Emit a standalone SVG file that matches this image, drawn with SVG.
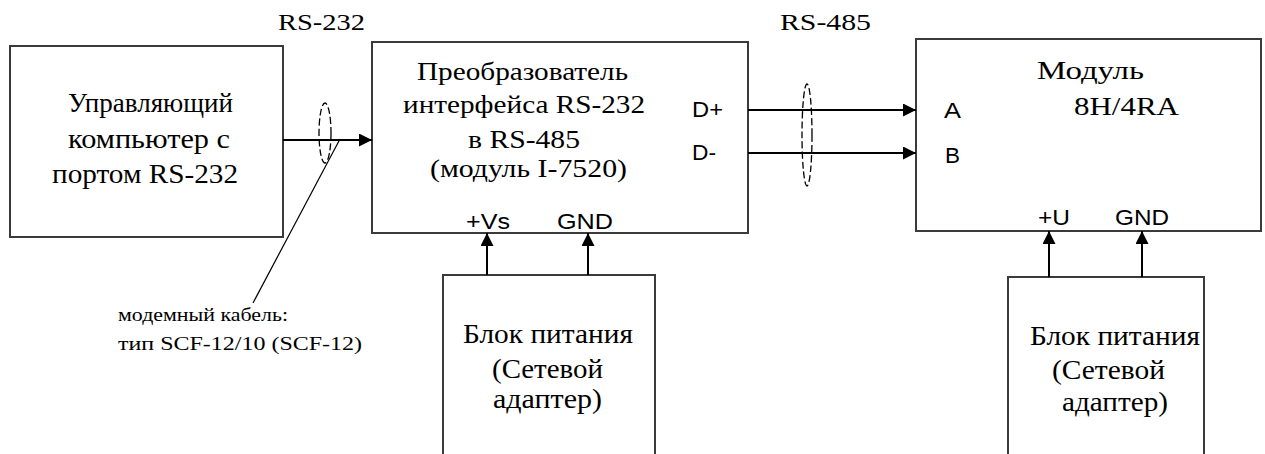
<svg xmlns="http://www.w3.org/2000/svg" width="1265" height="454" viewBox="0 0 1265 454">
<style>
.box{fill:#fff;stroke:#3a3a3a;stroke-width:2}
.serif{font-family:"Liberation Serif","Times New Roman",serif;fill:#000}
.sans{font-family:"Liberation Sans",Arial,sans-serif;fill:#000}
.wire{stroke:#000;stroke-width:2;fill:none}
.ell{stroke:#000;stroke-width:1.3;fill:none;stroke-dasharray:7 3}
</style>
<defs>
<marker id="ah" markerUnits="userSpaceOnUse" markerWidth="14" markerHeight="14" refX="13" refY="6.5" orient="auto">
<path d="M0,0 L13,6.5 L0,13 z" fill="#000"/>
</marker>
</defs>
<rect width="1265" height="454" fill="#fff"/>
<g id="computer">
<rect class="box" x="10" y="46" width="273" height="191"/>
<text class="serif" font-size="28" x="68" y="112" textLength="165" lengthAdjust="spacingAndGlyphs">Управляющий</text>
<text class="serif" font-size="28" x="68" y="148" textLength="162" lengthAdjust="spacingAndGlyphs">компьютер с</text>
<text class="serif" font-size="28" x="52" y="183" textLength="186" lengthAdjust="spacingAndGlyphs">портом RS-232</text>
</g>
<g id="converter">
<rect class="box" x="372" y="42" width="376" height="191"/>
<text class="serif" font-size="25" x="417" y="80" textLength="211" lengthAdjust="spacingAndGlyphs">Преобразователь</text>
<text class="serif" font-size="25" x="403" y="113" textLength="242" lengthAdjust="spacingAndGlyphs">интерфейса RS-232</text>
<text class="serif" font-size="25" x="468" y="148" textLength="112" lengthAdjust="spacingAndGlyphs">в RS-485</text>
<text class="serif" font-size="25" x="430" y="177" textLength="197" lengthAdjust="spacingAndGlyphs">(модуль I-7520)</text>
<text class="sans" font-size="22" x="692" y="117" textLength="31" lengthAdjust="spacingAndGlyphs">D+</text>
<text class="sans" font-size="22" x="692" y="160" textLength="24" lengthAdjust="spacingAndGlyphs">D-</text>
<text class="sans" font-size="22" x="466" y="229" textLength="44" lengthAdjust="spacingAndGlyphs">+Vs</text>
<text class="sans" font-size="22" x="557" y="229" textLength="56" lengthAdjust="spacingAndGlyphs">GND</text>
</g>
<g id="module">
<rect class="box" x="916" y="39" width="345" height="192"/>
<text class="serif" font-size="26" x="1037" y="79" textLength="107" lengthAdjust="spacingAndGlyphs">Модуль</text>
<text class="serif" font-size="26" x="1074" y="115" textLength="105" lengthAdjust="spacingAndGlyphs">8H/4RA</text>
<text class="sans" font-size="22" x="944" y="118" textLength="17" lengthAdjust="spacingAndGlyphs">A</text>
<text class="sans" font-size="22" x="945" y="163" textLength="15" lengthAdjust="spacingAndGlyphs">B</text>
<text class="sans" font-size="22" x="1038" y="225" textLength="32" lengthAdjust="spacingAndGlyphs">+U</text>
<text class="sans" font-size="22" x="1115" y="225" textLength="54" lengthAdjust="spacingAndGlyphs">GND</text>
</g>
<g id="psu1">
<rect class="box" x="443" y="275" width="212" height="190"/>
<text class="serif" font-size="27" x="463" y="343" textLength="170" lengthAdjust="spacingAndGlyphs">Блок питания</text>
<text class="serif" font-size="27" x="492" y="378" textLength="111" lengthAdjust="spacingAndGlyphs">(Сетевой</text>
<text class="serif" font-size="27" x="493" y="408" textLength="109" lengthAdjust="spacingAndGlyphs">адаптер)</text>
</g>
<g id="psu2">
<rect class="box" x="1008" y="277" width="196" height="190"/>
<text class="serif" font-size="27" x="1030" y="345" textLength="170" lengthAdjust="spacingAndGlyphs">Блок питания</text>
<text class="serif" font-size="27" x="1052" y="379" textLength="113" lengthAdjust="spacingAndGlyphs">(Сетевой</text>
<text class="serif" font-size="27" x="1062" y="411" textLength="106" lengthAdjust="spacingAndGlyphs">адаптер)</text>
</g>
<g id="labels">
<text class="serif" font-size="23" x="278" y="30" textLength="87" lengthAdjust="spacingAndGlyphs">RS-232</text>
<text class="serif" font-size="23" x="780" y="30" textLength="91" lengthAdjust="spacingAndGlyphs">RS-485</text>
<text class="serif" font-size="19" x="118" y="321" textLength="170" lengthAdjust="spacingAndGlyphs">модемный кабель:</text>
<text class="serif" font-size="19" x="118" y="350" textLength="244" lengthAdjust="spacingAndGlyphs">тип SCF-12/10 (SCF-12)</text>
</g>
<g id="connectors">
<line class="wire" x1="283" y1="140" x2="372" y2="140" marker-end="url(#ah)"/>
<line class="wire" x1="748" y1="110" x2="916" y2="110" marker-end="url(#ah)"/>
<line class="wire" x1="748" y1="153" x2="916" y2="153" marker-end="url(#ah)"/>
<line class="wire" x1="487" y1="275" x2="487" y2="233" marker-end="url(#ah)"/>
<line class="wire" x1="588" y1="275" x2="588" y2="233" marker-end="url(#ah)"/>
<line class="wire" x1="1049" y1="277" x2="1049" y2="231" marker-end="url(#ah)"/>
<line class="wire" x1="1142" y1="277" x2="1142" y2="231" marker-end="url(#ah)"/>
<ellipse class="ell" cx="325" cy="133" rx="6" ry="30"/>
<ellipse class="ell" cx="807" cy="135" rx="5" ry="51"/>
<line x1="340" y1="139" x2="253" y2="303" stroke="#000" stroke-width="1.2"/>
</g>
</svg>
